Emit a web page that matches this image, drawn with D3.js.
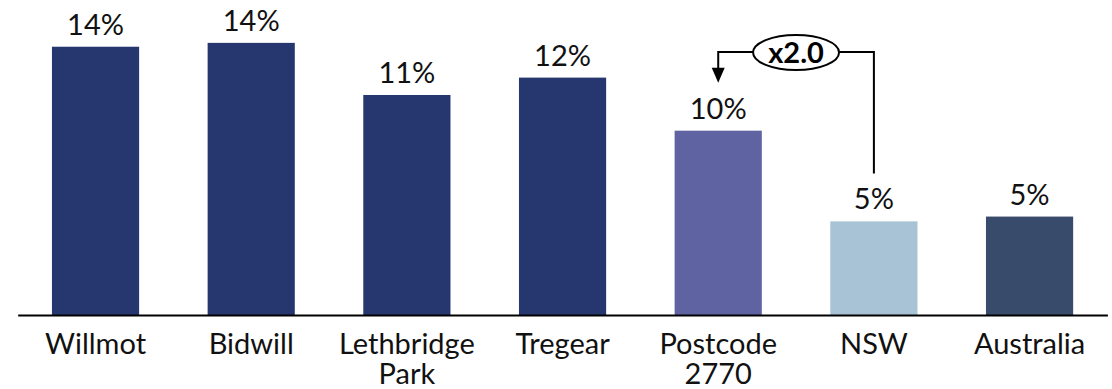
<!DOCTYPE html>
<html>
<head>
<meta charset="utf-8">
<script src="https://cdn.jsdelivr.net/npm/d3@7"></script>
<style>
  html, body { margin: 0; padding: 0; background: #ffffff; }
  svg { display: block; font-family: Lato, "Open Sans", sans-serif; }
</style>
</head>
<body>
<svg id="chart" width="1112" height="389"></svg>
<script>
// Share of residents (%) by area
const categories = ["Willmot", "Bidwill", "Lethbridge Park", "Tregear", "Postcode 2770", "NSW", "Australia"];
const values = [13.9, 14.1, 11.4, 12.3, 9.55, 4.85, 5.1];
const barColors = ["#26366f", "#26366f", "#26366f", "#26366f", "#5f63a2", "#a7c3d5", "#384b6b"];
// Comparison callout: from NSW to Postcode 2770
const compareFrom = "NSW";
const compareTo = "Postcode 2770";

const svg = d3.select("#chart");
const baseY = 315;

const x = d3.scaleBand()
  .domain(categories)
  .range([17.7, 1107.4])
  .paddingInner(0.44)
  .paddingOuter(0.22);

const y = d3.scaleLinear()
  .domain([0, 16])
  .range([baseY, baseY - 16 * 19.3]);

const data = categories.map((c, i) => ({ cat: c, value: values[i], color: barColors[i] }));

// bars
svg.append("g")
  .selectAll("rect")
  .data(data)
  .join("rect")
  .attr("x", d => x(d.cat))
  .attr("y", d => y(d.value))
  .attr("width", x.bandwidth())
  .attr("height", d => y(0) - y(d.value))
  .attr("fill", d => d.color);

// value labels
svg.append("g")
  .selectAll("text")
  .data(data)
  .join("text")
  .attr("x", d => x(d.cat) + x.bandwidth() / 2)
  .attr("y", d => y(d.value) - 12)
  .attr("text-anchor", "middle")
  .attr("font-size", 29)
  .attr("fill", "#111")
  .text(d => d3.format(".0f")(d.value) + "%");

// category axis
const axis = svg.append("g")
  .attr("transform", `translate(0,${baseY})`)
  .call(d3.axisBottom(x).tickSize(0).tickPadding(0));

axis.select(".domain").attr("stroke", "#000").attr("stroke-width", 2);
axis.selectAll(".tick text")
  .attr("font-size", 29)
  .attr("font-family", "Lato, 'Open Sans', sans-serif")
  .attr("fill", "#111")
  .attr("dy", null)
  .attr("y", 0)
  .each(function (d) {
    const t = d3.select(this);
    const words = d.split(" ");
    t.text(null);
    // wrap labels that are wider than one band step
    const lines = [];
    let line = [];
    words.forEach(w => {
      const test = line.concat(w).join(" ");
      t.text(test);
      if (line.length && this.getComputedTextLength() > x.step() - 8) {
        lines.push(line.join(" "));
        line = [w];
      } else {
        line.push(w);
      }
    });
    lines.push(line.join(" "));
    t.text(null);
    lines.forEach((l, i) => {
      t.append("tspan").attr("x", 0).attr("y", 38.5 + i * 30).text(l);
    });
  });

// ratio callout between NSW and Postcode 2770
const ratio = values[categories.indexOf(compareTo)] / values[categories.indexOf(compareFrom)];
const xFrom = x(compareFrom) + x.bandwidth() / 2;
const xTo = x(compareTo) + x.bandwidth() / 2;
const yFrom = y(values[categories.indexOf(compareFrom)]) - 48;
const yTo = y(values[categories.indexOf(compareTo)]) - 48;
const yTop = 52;
const arrowH = 15, arrowW = 13;

const callout = svg.append("g");
callout.append("path")
  .attr("d", `M${xFrom},${yFrom} V${yTop} H${xTo} V${yTo - arrowH + 1}`)
  .attr("fill", "none")
  .attr("stroke", "#000")
  .attr("stroke-width", 2);
callout.append("path")
  .attr("d", `M${xTo - arrowW / 2},${yTo - arrowH} L${xTo + arrowW / 2},${yTo - arrowH} L${xTo},${yTo} Z`)
  .attr("fill", "#000");
const cx = (xFrom + xTo) / 2;
callout.append("ellipse")
  .attr("cx", cx)
  .attr("cy", yTop + 0.5)
  .attr("rx", 43)
  .attr("ry", 17.5)
  .attr("fill", "#fff")
  .attr("stroke", "#000")
  .attr("stroke-width", 2);
callout.append("text")
  .attr("x", cx)
  .attr("y", yTop + 10.5)
  .attr("text-anchor", "middle")
  .attr("font-size", 29)
  .attr("font-weight", "bold")
  .attr("fill", "#000")
  .text("x" + ratio.toFixed(1));
</script>
</body>
</html>
